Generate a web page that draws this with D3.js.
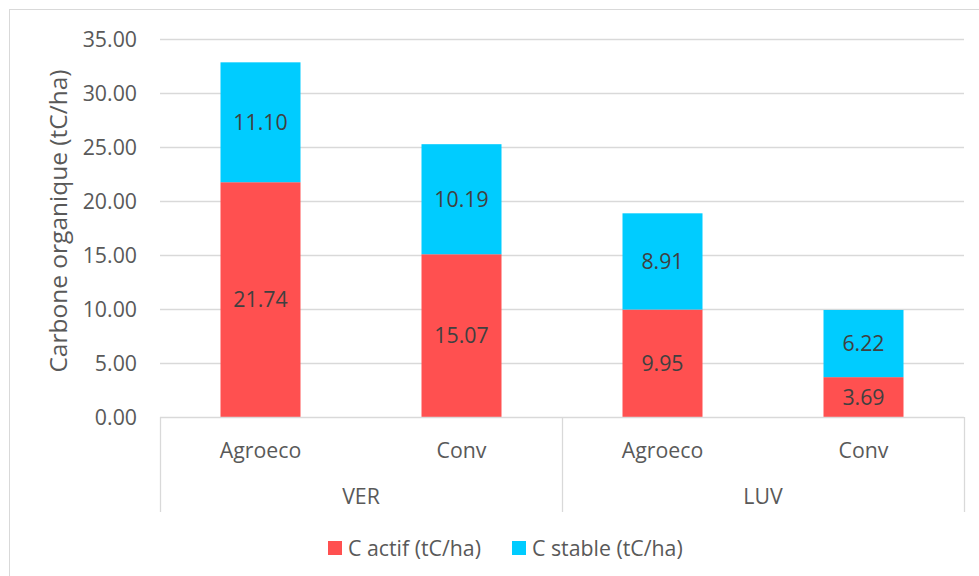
<!DOCTYPE html>
<html>
<head>
<meta charset="utf-8">
<script src="https://cdn.jsdelivr.net/npm/d3@7"></script>
<style>
  html, body { margin: 0; padding: 0; background: #fff; }
  svg { display: block; font-family: "Open Sans", sans-serif; }
</style>
</head>
<body>
<svg id="chart" width="979" height="576"></svg>
<script>
// Sites and practices (two-level category axis)
const sites = ["VER", "LUV"];
const practices = ["Agroeco", "Conv"];
const categories = [
  { site: "VER", practice: "Agroeco" },
  { site: "VER", practice: "Conv" },
  { site: "LUV", practice: "Agroeco" },
  { site: "LUV", practice: "Conv" }
];
// Stacked series, in tC/ha
const seriesNames = ["C actif (tC/ha)", "C stable (tC/ha)"];
const cActif  = [21.74, 15.07, 9.95, 3.69];
const cStable = [11.10, 10.19, 8.91, 6.22];
const yTicks = [0, 5, 10, 15, 20, 25, 30, 35];
const yTitle = "Carbone organique (tC/ha)";

const colors = ["#FF5050", "#00CCFF"];
const textColor = "#595959";
const labelColor = "#404040";
const lineColor = "#D9D9D9";
const fontSize = 21.3;

const svg = d3.select("#chart");
const W = 979, H = 576;
const plot = { left: 160, right: 964, top: 39, bottom: 417 };

// Chart frame
svg.append("rect")
  .attr("x", 9.5).attr("y", 9.5)
  .attr("width", W).attr("height", H)
  .attr("fill", "#fff")
  .attr("stroke", lineColor).attr("stroke-width", 1);

const keys = categories.map((c, i) => i);
const x = d3.scaleBand()
  .domain(keys)
  .range([plot.left, plot.right])
  .paddingInner(0.602)
  .paddingOuter(0.301);

const y = d3.scaleLinear().domain([0, 35]).range([plot.bottom, plot.top]);

// Horizontal gridlines
svg.append("g")
  .selectAll("line")
  .data(yTicks.filter(t => t > 0))
  .join("line")
  .attr("x1", plot.left).attr("x2", plot.right)
  .attr("y1", d => Math.round(y(d)) + 0.5)
  .attr("y2", d => Math.round(y(d)) + 0.5)
  .attr("stroke", lineColor).attr("stroke-width", 1.3);

// Y tick labels
svg.append("g")
  .selectAll("text")
  .data(yTicks)
  .join("text")
  .attr("x", 137)
  .attr("y", d => y(d))
  .attr("dy", "0.36em")
  .attr("text-anchor", "end")
  .attr("font-size", fontSize)
  .attr("fill", textColor)
  .text(d => d.toFixed(2));

// Y axis title
svg.append("text")
  .attr("transform", "translate(67, 221) rotate(-90)")
  .attr("text-anchor", "middle")
  .attr("font-size", 24.5)
  .attr("fill", textColor)
  .text(yTitle);

// Stack the two series
const rows = categories.map((c, i) => ({ key: i, a: cActif[i], s: cStable[i] }));
const stack = d3.stack().keys(["a", "s"]);
const stacked = stack(rows);

const layers = svg.append("g")
  .selectAll("g")
  .data(stacked)
  .join("g")
  .attr("fill", (d, i) => colors[i]);

layers.selectAll("rect")
  .data(d => d)
  .join("rect")
  .attr("x", d => x(d.data.key))
  .attr("width", x.bandwidth())
  .attr("y", d => y(d[1]))
  .attr("height", d => y(d[0]) - y(d[1]));

// Value labels centred in each segment
layers.selectAll("text")
  .data(d => d.map(v => ({ v, val: v[1] - v[0] })))
  .join("text")
  .attr("x", d => x(d.v.data.key) + x.bandwidth() / 2)
  .attr("y", d => y((d.v[0] + d.v[1]) / 2))
  .attr("dy", "0.36em")
  .attr("text-anchor", "middle")
  .attr("font-size", fontSize)
  .attr("fill", labelColor)
  .text(d => d.val.toFixed(2));

// Category axis: baseline and group separators
const axis = svg.append("g").attr("stroke", lineColor).attr("stroke-width", 1.3);
axis.append("line")
  .attr("x1", plot.left).attr("x2", plot.right)
  .attr("y1", plot.bottom + 0.5).attr("y2", plot.bottom + 0.5);

const step = x.step();
const groupEdges = [plot.left, plot.left + step * 2, plot.right];
axis.selectAll("line.sep")
  .data(groupEdges)
  .join("line")
  .attr("class", "sep")
  .attr("x1", d => d + 0.5).attr("x2", d => d + 0.5)
  .attr("y1", plot.bottom).attr("y2", 512);

// Practice labels
svg.append("g")
  .selectAll("text")
  .data(categories.map((c, i) => ({ c, i })))
  .join("text")
  .attr("x", d => x(d.i) + x.bandwidth() / 2)
  .attr("y", 450)
  .attr("dy", "0.36em")
  .attr("text-anchor", "middle")
  .attr("font-size", fontSize)
  .attr("fill", textColor)
  .text(d => d.c.practice);

// Site labels
const g = d3.scaleBand().domain(sites).range([plot.left, plot.right]);
svg.append("g")
  .selectAll("text")
  .data(sites)
  .join("text")
  .attr("x", d => g(d) + g.bandwidth() / 2)
  .attr("y", 496)
  .attr("dy", "0.36em")
  .attr("text-anchor", "middle")
  .attr("font-size", fontSize)
  .attr("fill", textColor)
  .text(d => d);

// Legend
const legendX = [328, 512];
const legend = svg.append("g")
  .selectAll("g")
  .data(seriesNames)
  .join("g")
  .attr("transform", (d, i) => `translate(${legendX[i]}, 548)`);
legend.append("rect")
  .attr("x", 0).attr("y", -7)
  .attr("width", 14).attr("height", 14)
  .attr("fill", (d, i) => colors[i]);
legend.append("text")
  .attr("x", 20).attr("y", 0)
  .attr("dy", "0.36em")
  .attr("font-size", fontSize)
  .attr("fill", textColor)
  .text(d => d);
</script>
</body>
</html>
